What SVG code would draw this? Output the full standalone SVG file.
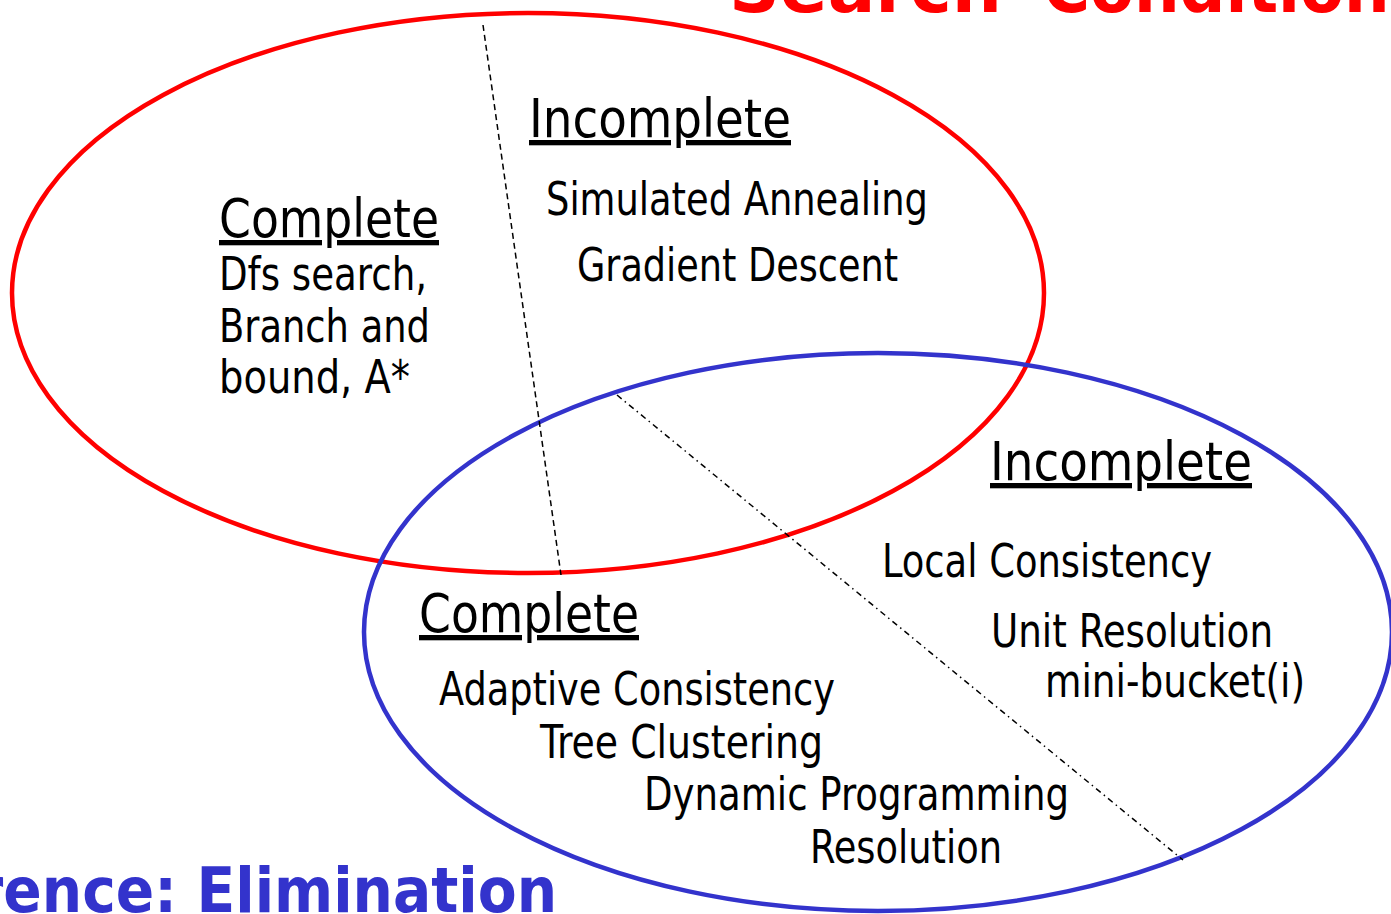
<svg xmlns="http://www.w3.org/2000/svg" width="1391" height="914" viewBox="0 0 1391 914">
<style>
.t{font-family:"DejaVu Sans Condensed","DejaVu Sans",sans-serif;font-stretch:condensed;fill:#000;font-size:47px}
.h{text-decoration:underline;font-size:53px}
.title{font-family:"DejaVu Sans Condensed","DejaVu Sans",sans-serif;font-stretch:condensed;font-weight:bold}
.dash{stroke:#000;stroke-width:1.5;fill:none}
</style>
<rect width="1391" height="914" fill="#fff"/>
<g id="titles">
<text class="title" fill="#ff0000" font-size="70" y="12"><tspan x="729" textLength="273" lengthAdjust="spacingAndGlyphs">Search</tspan><tspan x="1043" textLength="460" lengthAdjust="spacingAndGlyphs">Conditioning</tspan></text>
<text class="title" fill="#3333cc" font-size="63" x="557" y="912" text-anchor="end">Inference: Elimination</text>
</g>
<g id="search-ellipse"><ellipse cx="528" cy="293" rx="516" ry="280" fill="none" stroke="#ff0000" stroke-width="4.5"/></g>
<g id="inference-ellipse"><ellipse cx="878" cy="632" rx="514" ry="279" fill="none" stroke="#3333cc" stroke-width="4.5"/></g>
<g id="connectors">
<line class="dash" x1="483" y1="25" x2="561" y2="575" stroke-dasharray="6,4"/>
<line class="dash" x1="617" y1="395" x2="1183" y2="860" stroke-dasharray="6,4,1.5,4"/>
</g>
<g id="search-incomplete">
<text class="t h" x="529" y="137" textLength="262" lengthAdjust="spacingAndGlyphs">Incomplete</text>
<text class="t" x="546" y="215" textLength="382" lengthAdjust="spacingAndGlyphs">Simulated Annealing</text>
<text class="t" x="577" y="281" textLength="321" lengthAdjust="spacingAndGlyphs">Gradient Descent</text>
</g>
<g id="search-complete">
<text class="t h" x="219" y="237" textLength="220" lengthAdjust="spacingAndGlyphs">Complete</text>
<text class="t" x="219" y="290" textLength="208" lengthAdjust="spacingAndGlyphs">Dfs search,</text>
<text class="t" x="219" y="342" textLength="211" lengthAdjust="spacingAndGlyphs">Branch and</text>
<text class="t" x="219" y="393" textLength="191" lengthAdjust="spacingAndGlyphs">bound, A*</text>
</g>
<g id="inference-incomplete">
<text class="t h" x="990" y="480" textLength="262" lengthAdjust="spacingAndGlyphs">Incomplete</text>
<text class="t" x="882" y="577" textLength="330" lengthAdjust="spacingAndGlyphs">Local Consistency</text>
<text class="t" x="991" y="647" textLength="282" lengthAdjust="spacingAndGlyphs">Unit Resolution</text>
<text class="t" x="1045" y="697" textLength="260" lengthAdjust="spacingAndGlyphs">mini-bucket(i)</text>
</g>
<g id="inference-complete">
<text class="t h" x="419" y="632" textLength="220" lengthAdjust="spacingAndGlyphs">Complete</text>
<text class="t" x="439" y="705" textLength="396" lengthAdjust="spacingAndGlyphs">Adaptive Consistency</text>
<text class="t" x="540" y="758" textLength="283" lengthAdjust="spacingAndGlyphs">Tree Clustering</text>
<text class="t" x="644" y="810" textLength="425" lengthAdjust="spacingAndGlyphs">Dynamic Programming</text>
<text class="t" x="810" y="863" textLength="192" lengthAdjust="spacingAndGlyphs">Resolution</text>
</g>
</svg>
